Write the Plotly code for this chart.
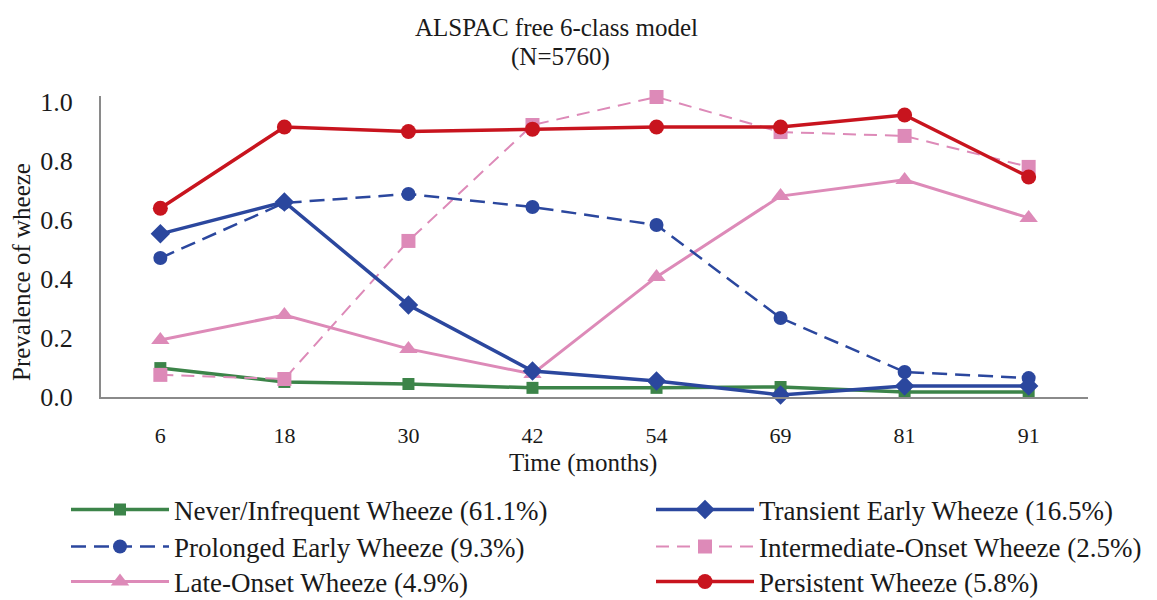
import plotly.graph_objects as go

months = ["6", "18", "30", "42", "54", "69", "81", "91"]

never = [0.098, 0.051, 0.044, 0.031, 0.031, 0.034, 0.017, 0.017]
transient = [0.553, 0.661, 0.312, 0.088, 0.054, 0.007, 0.037, 0.037]
prolonged = [0.471, 0.658, 0.688, 0.644, 0.583, 0.268, 0.085, 0.064]
intermediate = [0.075, 0.061, 0.529, 0.922, 1.017, 0.898, 0.885, 0.780]
late = [0.193, 0.278, 0.163, 0.078, 0.407, 0.681, 0.736, 0.607]
persistent = [0.640, 0.915, 0.900, 0.908, 0.915, 0.915, 0.956, 0.746]

names = [
    "Never/Infrequent Wheeze (61.1%)",
    "Transient Early Wheeze (16.5%)",
    "Prolonged Early Wheeze (9.3%)",
    "Intermediate-Onset Wheeze (2.5%)",
    "Late-Onset Wheeze (4.9%)",
    "Persistent Wheeze (5.8%)",
]

GREEN = "#3c8449"
BLUE = "#2b479e"
RED = "#c8141e"
PINK = "#dd8ab8"
TXT = "#1a1a1a"
FONT = "Liberation Serif"

series = [
    (never, names[0], GREEN, "solid", "square", 12, 3.5),
    (transient, names[1], BLUE, "solid", "diamond", 15, 3.5),
    (prolonged, names[2], BLUE, "15px,8px", "circle", 14, 2.5),
    (intermediate, names[3], PINK, "13px,8px", "square", 14, 2),
    (late, names[4], PINK, "solid", "triangle-up", 16, 3),
    (persistent, names[5], RED, "solid", "circle", 15, 3.5),
]

# the page body adds an 8px offset; work in screen pixels and convert
OFF = 8
W, H = 1157 - OFF, 600 - OFF
# plot area in screen pixels
YTOP = 1.02
L, R, B = 101, 1088, 397
T = B - YTOP * 295


def pgx(x):
    return (x - OFF) / W


def pgy(y):
    return 1 - (y - OFF) / H


# legend positions (screen pixels): left col / right col, three rows
leg_pos = [(66, 510), (651, 510), (66, 547), (651, 547), (66, 582), (651, 582)]

fig = go.Figure()
draw_order = [0, 4, 3, 2, 1, 5]
for i in draw_order:
    vals, name, color, dash, sym, msize, lw = series[i]
    leg = "legend" if i == 0 else f"legend{i+1}"
    fig.add_trace(go.Scatter(
        x=months, y=vals, name=name, mode="lines+markers",
        line=dict(color=color, width=lw, dash=dash),
        marker=dict(symbol=sym, size=msize, color=color),
        legend=leg, cliponaxis=False,
    ))

layout_legends = {}
for i, (lx, ly) in enumerate(leg_pos):
    key = "legend" if i == 0 else f"legend{i+1}"
    layout_legends[key] = dict(
        x=pgx(lx), y=pgy(ly), xanchor="left", yanchor="middle",
        font=dict(family=FONT, size=27, color=TXT),
        itemwidth=98, bgcolor="rgba(0,0,0,0)", borderwidth=0,
        tracegroupgap=0,
    )

fig.update_layout(
    width=W, height=H,
    margin=dict(l=0, r=0, t=0, b=0, autoexpand=False),
    paper_bgcolor="white", plot_bgcolor="white",
    font=dict(family=FONT, color=TXT),
    showlegend=True,
    **layout_legends,
    xaxis=dict(
        domain=[pgx(L), pgx(R)],
        type="category", showgrid=False, zeroline=False,
        showline=True, linecolor="#8a8a8a", linewidth=2,
        ticks="", ticklabelstandoff=18,
        tickfont=dict(family=FONT, size=22, color=TXT),
    ),
    yaxis=dict(
        domain=[pgy(B), pgy(T)],
        range=[0, YTOP], showgrid=False, zeroline=False,
        showline=True, linecolor="#8a8a8a", linewidth=2,
        ticks="", tickvals=[0, 0.2, 0.4, 0.6, 0.8, 1.0],
        ticktext=["0.0", "0.2", "0.4", "0.6", "0.8", "1.0"],
        ticklabelstandoff=21,
        tickfont=dict(family=FONT, size=26, color=TXT),
    ),
    annotations=[
        dict(text="ALSPAC free 6-class model", xref="paper", yref="paper",
             x=pgx(556), y=pgy(27), xanchor="center", yanchor="middle",
             showarrow=False, font=dict(family=FONT, size=25, color=TXT)),
        dict(text="(N=5760)", xref="paper", yref="paper",
             x=pgx(560), y=pgy(57), xanchor="center", yanchor="middle",
             showarrow=False, font=dict(family=FONT, size=25, color=TXT)),
        dict(text="Time (months)", xref="paper", yref="paper",
             x=pgx(583), y=pgy(463), xanchor="center", yanchor="middle",
             showarrow=False, font=dict(family=FONT, size=25, color=TXT)),
        dict(text="Prevalence of wheeze", xref="paper", yref="paper",
             x=pgx(21), y=pgy(272), xanchor="center", yanchor="middle",
             textangle=-90, showarrow=False,
             font=dict(family=FONT, size=25, color=TXT)),
    ],
)

fig.write_html("out.html")
